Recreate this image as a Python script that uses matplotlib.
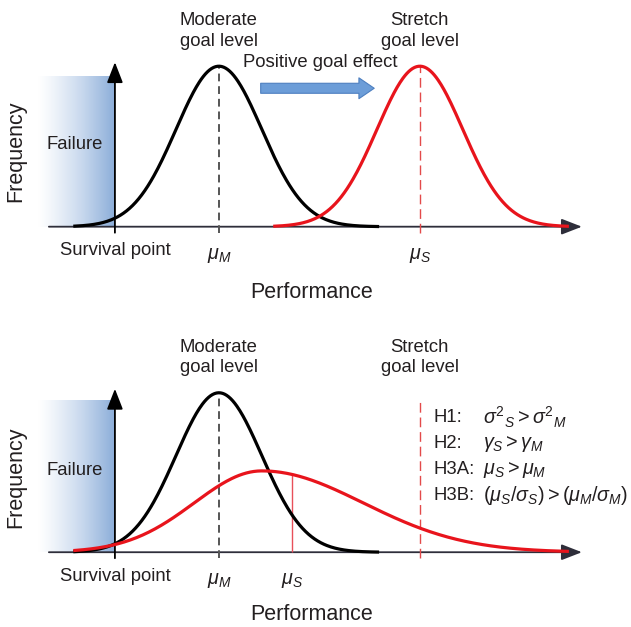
"""Stretch vs moderate goal: two conceptual performance distributions."""

import matplotlib

matplotlib.use("Agg")
import matplotlib.pyplot as plt
import numpy as np
from matplotlib.colors import LinearSegmentedColormap
from matplotlib.patches import FancyArrowPatch

plt.rcParams["font.family"] = ["Liberation Sans", "DejaVu Sans"]
plt.rcParams["mathtext.fontset"] = "custom"
plt.rcParams["mathtext.rm"] = "Liberation Sans"
plt.rcParams["mathtext.it"] = "Liberation Sans:italic"
plt.rcParams["text.color"] = "#231f20"

# performance units: survival point at 0; frequency: moderate peak = 1
SURVIVAL = 0.0
MU_MODERATE = 4.0
SIGMA_MODERATE = 1.65
MODERATE_RANGE = (-1.54, 10.1)
MU_STRETCH_TOP = 11.73          # top panel: stretch mean shifted right
SIGMA_STRETCH_TOP = 1.65
STRETCH_TOP_RANGE = (6.15, 17.4)
STRETCH_GOAL = 11.73            # bottom panel: stretch goal level
MODE_STRETCH_BOTTOM = 5.65      # bottom panel: skewed stretch distribution
SIGMA_LEFT_BOTTOM = 2.6
SIGMA_RIGHT_BOTTOM = 3.9
PEAK_STRETCH_BOTTOM = 0.51
MU_STRETCH_BOTTOM = 6.8
STRETCH_BOTTOM_RANGE = (-1.54, 17.4)

HYPOTHESES = ["H1:", "H2:", "H3A:", "H3B:"]
HYPOTHESIS_TERMS = [
    r"$\sigma^2{}_S > \sigma^2{}_M$",
    r"$\gamma_S > \gamma_M$",
    r"$\mu_S > \mu_M$",
    r"$(\mu_S/\sigma_S) > (\mu_M/\sigma_M)$",
]

RED = "#e8141c"
AXIS = "#2e2e3a"
FONT = 13.3
MATH_FONT = 14.2
BIG_FONT = 15.5


def normal_curve(mu, sigma, span):
    x = np.linspace(*span, 300)
    return x, np.exp(-0.5 * ((x - mu) / sigma) ** 2)


def two_piece(x):
    sigma = np.where(x < MODE_STRETCH_BOTTOM, SIGMA_LEFT_BOTTOM, SIGMA_RIGHT_BOTTOM)
    return PEAK_STRETCH_BOTTOM * np.exp(-0.5 * ((x - MODE_STRETCH_BOTTOM) / sigma) ** 2)


def draw_frame(ax, fail_top, mu_label_x, mu_label_y):
    ax.set_xlim(-4.42, 19.85)
    ax.axis("off")
    cmap = LinearSegmentedColormap.from_list("fail", ["#ffffff", "#c9d9ee", "#8caed9"])
    grad = np.linspace(0, 1, 256) ** 1.2
    ax.imshow(grad[None, :], cmap=cmap, extent=(-2.96, 0, 0, fail_top), aspect="auto", zorder=0)
    ax.annotate("", xy=(17.96, 0), xytext=(-2.54, 0),
                arrowprops=dict(arrowstyle="-|>,head_length=0.9,head_width=0.35", color=AXIS,
                                lw=1.3, shrinkA=0, shrinkB=0, mutation_scale=14), zorder=1)
    ax.annotate("", xy=(SURVIVAL, 1.025), xytext=(SURVIVAL, -0.0375),
                arrowprops=dict(arrowstyle="-|>,head_length=0.9,head_width=0.35", color="black",
                                lw=1.3, shrinkA=0, shrinkB=0, mutation_scale=14), zorder=1)
    ax.vlines(MU_MODERATE, -0.0375, 1.0, colors="#555555", lw=1.4, linestyles=(0, (4, 2.5)), zorder=2)
    ax.text(-3.8, 0.47, "Frequency", rotation=90, ha="center", va="center", fontsize=BIG_FONT)
    ax.text(-1.54, 0.51, "Failure", ha="center", va="center", fontsize=FONT)
    ax.text(SURVIVAL, -0.15, "Survival point", ha="center", va="center", fontsize=FONT)
    ax.text(MU_MODERATE, mu_label_y, r"$\mu_M$", ha="center", va="center", fontsize=MATH_FONT)
    ax.text(mu_label_x, mu_label_y, r"$\mu_S$", ha="center", va="center", fontsize=MATH_FONT)
    ax.text(MU_MODERATE, 1.22, "Moderate\ngoal level", ha="center", va="center",
            fontsize=FONT, linespacing=1.25)
    ax.text(STRETCH_GOAL, 1.22, "Stretch\ngoal level", ha="center", va="center",
            fontsize=FONT, linespacing=1.25)


fig = plt.figure(figsize=(6.31, 6.27), dpi=100)
ax_top = fig.add_axes([0, 313 / 627, 1, 314 / 627])
ax_bot = fig.add_axes([0, 0, 1, 313 / 627])
ax_top.set_ylim(-0.544, 1.4125)
ax_bot.set_ylim(-0.469, 1.494)

# top panel: whole distribution shifts right
draw_frame(ax_top, 0.94, MU_STRETCH_TOP, -0.18)
x, y = normal_curve(MU_MODERATE, SIGMA_MODERATE, MODERATE_RANGE)
ax_top.plot(x, y, color="black", lw=2.3, zorder=3)
x, y = normal_curve(MU_STRETCH_TOP, SIGMA_STRETCH_TOP, STRETCH_TOP_RANGE)
ax_top.plot(x, y, color=RED, lw=2.3, zorder=3)
ax_top.vlines(MU_STRETCH_TOP, -0.0375, 1.0, colors="#e34a4a", lw=1.0, linestyles=(0, (7, 3.5)), zorder=2)
ax_top.add_patch(FancyArrowPatch((5.5, 0.8625), (10.08, 0.8625),
                                 arrowstyle="simple,head_length=1.1,head_width=1.5,tail_width=0.72",
                                 mutation_scale=10, facecolor="#6c9dd8", edgecolor="#4d7fc0",
                                 lw=0.8, zorder=3))
ax_top.text(7.88, 1.02, "Positive goal effect", ha="center", va="center", fontsize=FONT)
ax_top.text(7.58, -0.41, "Performance", ha="center", va="center", fontsize=BIG_FONT)

# bottom panel: skewed, wider stretch distribution
draw_frame(ax_bot, 0.95, MU_STRETCH_BOTTOM, -0.18)
x, y = normal_curve(MU_MODERATE, SIGMA_MODERATE, MODERATE_RANGE)
ax_bot.plot(x, y, color="black", lw=2.3, zorder=3)
xs = np.linspace(*STRETCH_BOTTOM_RANGE, 400)
ax_bot.plot(xs, two_piece(xs), color=RED, lw=2.3, zorder=3)
ax_bot.vlines(MU_STRETCH_BOTTOM, 0, two_piece(np.array(MU_STRETCH_BOTTOM)), colors="#e8505a", lw=1.0, zorder=2)
ax_bot.vlines(STRETCH_GOAL, -0.0375, 0.97, colors="#e34a4a", lw=1.0, linestyles=(0, (7, 3.5)), zorder=2)
for i, (label, term) in enumerate(zip(HYPOTHESES, HYPOTHESIS_TERMS)):
    yy = 0.844 - i * 0.163
    ax_bot.text(12.27, yy, label, ha="left", va="center", fontsize=FONT)
    ax_bot.text(14.15, yy, term, ha="left", va="center", fontsize=MATH_FONT)
ax_bot.text(7.58, -0.39, "Performance", ha="center", va="center", fontsize=BIG_FONT)

fig.savefig("out.png", dpi=100)
